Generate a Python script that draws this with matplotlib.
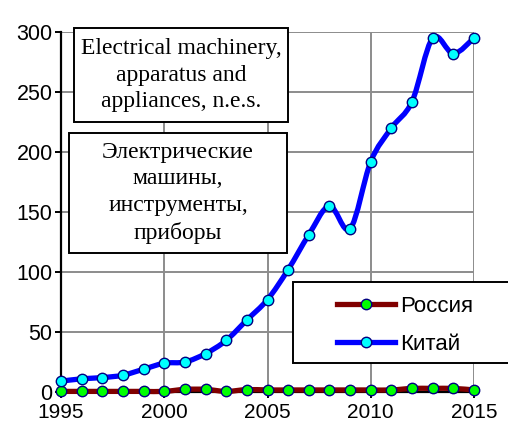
import numpy as np
import matplotlib
matplotlib.use('Agg')
import matplotlib.pyplot as plt
from matplotlib.path import Path
from matplotlib.patches import PathPatch, Rectangle
from matplotlib.lines import Line2D

years = list(range(1995, 2016))
china = [9, 11, 12, 14, 19, 24, 25, 32, 43, 60, 77, 102, 131, 155, 136,
         192, 220, 242, 295, 282, 295]
russia = [0.5, 0.5, 0.5, 0.5, 0.5, 0.5, 2.2, 2.2, 0.5, 2, 1.7, 1.7, 1.7, 1.7,
          1.7, 1.7, 1.7, 3, 3, 3, 1.7]
series_names = ['Россия', 'Китай']
title_en = 'Electrical machinery,\napparatus and\nappliances, n.e.s.'
title_ru = 'Электрические\nмашины,\nинструменты,\nприборы'
xticks = [1995, 2000, 2005, 2010, 2015]
yticks = [0, 50, 100, 150, 200, 250, 300]

W, H = 508, 426


def smooth_path(xs, ys):
    # Catmull-Rom style smoothing like the spreadsheet "smoothed line"
    pts = np.column_stack([xs, ys]).astype(float)
    n = len(pts)
    verts = [pts[0]]
    codes = [Path.MOVETO]
    for i in range(n - 1):
        p0 = pts[i - 1] if i > 0 else pts[i]
        p1 = pts[i]
        p2 = pts[i + 1]
        p3 = pts[i + 2] if i + 2 < n else pts[i + 1]
        c1 = p1 + (p2 - p0) / 6.0
        c2 = p2 - (p3 - p1) / 6.0
        verts += [c1, c2, p2]
        codes += [Path.CURVE4] * 3
    return Path(verts, codes)


plt.rcParams['font.family'] = ['Liberation Sans', 'DejaVu Sans']
fig = plt.figure(figsize=(W / 100, H / 100), dpi=100)
ax = fig.add_axes([61 / W, 1 - 392 / H, (474 - 61) / W, (392 - 32) / H])

ax.set_xlim(1995, 2015)
ax.set_ylim(0, 300)
ax.set_xticks(xticks)
ax.set_yticks(yticks)
ax.grid(True, color='#8c8c8c', lw=1.4)
ax.set_axisbelow(True)
for s in ['top', 'right']:
    ax.spines[s].set_visible(False)
for s in ['left', 'bottom']:
    ax.spines[s].set_linewidth(1.6)
    ax.spines[s].set_color('black')
ax.tick_params(labelsize=15.5, length=4, width=1.4, color='black')
ax.tick_params(axis='y', pad=2)
ax.tick_params(axis='x', pad=4, labelsize=15)

styles = [
    dict(line='#800000', face='#00ff00'),
    dict(line='#0000ff', face='#00ffff'),
]
handles = []
for data, st, name in zip([russia, china], styles, series_names):
    patch = PathPatch(smooth_path(years, data), facecolor='none',
                      edgecolor=st['line'], lw=3.8, capstyle='round',
                      joinstyle='round', zorder=3, clip_on=False)
    ax.add_patch(patch)
    ax.plot(years, data, ls='none', marker='o', ms=7.5, mfc=st['face'],
            mec='#000080', mew=1.0, zorder=4, clip_on=False)
    handles.append(Line2D([], [], color=st['line'], lw=3.8, marker='o',
                          ms=7.5, mfc=st['face'], mec='#000080', mew=1.0))

# text boxes
for (x0, y0, x1, y1), txt in [((74, 28, 288, 122), title_en),
                              ((69, 133, 287, 253), title_ru)]:
    fig.patches.append(Rectangle((x0 / W, 1 - y1 / H), (x1 - x0) / W,
                                 (y1 - y0) / H, transform=fig.transFigure,
                                 facecolor='white', edgecolor='black',
                                 lw=1.4, zorder=5))
    fig.text((x0 + x1) / 2 / W, 1 - (y0 + y1) / 2 / H, txt, ha='center',
             va='center', family=['Liberation Serif', 'DejaVu Serif'],
             fontsize=17, linespacing=1.36, zorder=6)

# legend frame and legend
fig.patches.append(Rectangle((293 / W, 1 - 363 / H), (W + 5 - 293) / W,
                             (363 - 282) / H, transform=fig.transFigure,
                             facecolor='white', edgecolor='black', lw=1.4,
                             zorder=5))
leg = fig.legend(handles, series_names, loc='upper left',
                 bbox_to_anchor=(337 / W, 1 - 296 / H), frameon=False,
                 borderpad=0, borderaxespad=0, handlelength=2.6,
                 handletextpad=0.22, labelspacing=0.76, fontsize=16)
leg.set_zorder(6)

fig.savefig('out.png', dpi=100)
